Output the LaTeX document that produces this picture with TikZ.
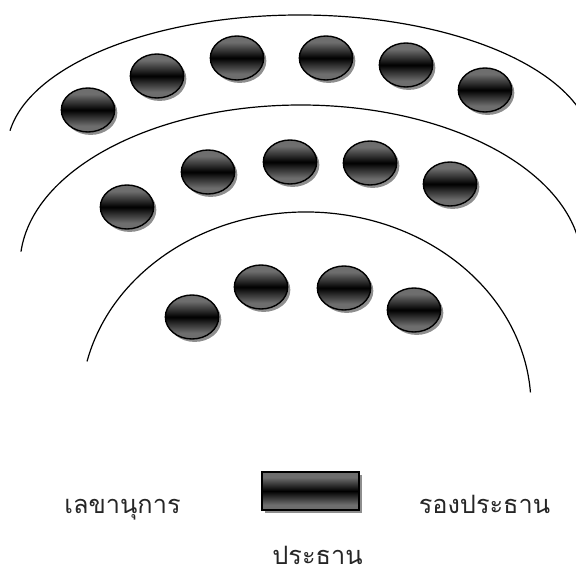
\documentclass[tikz,border=0pt]{standalone}
\usepackage{fontspec}
\usetikzlibrary{shapes.geometric,shadows}
\newfontfamily\thaifont[Script=Thai]{Loma}
\definecolor{seatgray}{HTML}{6E6E6E}
\definecolor{shadowgray}{HTML}{8E8E8E}
\pgfdeclareverticalshading{seatshade}{100bp}{color(0bp)=(seatgray);
  color(32bp)=(seatgray); color(50bp)=(black); color(68bp)=(seatgray);
  color(100bp)=(seatgray)}

\begin{document}
\begin{tikzpicture}[
  x=0.75pt,y=-0.75pt,
  row/.style={line width=0.9pt,draw=black},
  glossy/.style={shading=seatshade,
    drop shadow={shadow xshift=2pt,shadow yshift=-2.2pt,fill=shadowgray,opacity=1}},
  seat/.style={ellipse,glossy,draw=black,line width=1.05pt,inner sep=0pt,
    minimum width=40pt,minimum height=33pt},
  chairbox/.style={rectangle,glossy,draw=black,line width=1.5pt,inner sep=0pt,
    minimum width=72.75pt,minimum height=28.5pt},
  label/.style={anchor=base,inner sep=0pt,text=black!85,
    font=\thaifont\fontsize{19}{23}\selectfont}
]
\useasboundingbox (0,0) rectangle (576,575);

% rows of the hall, cut off by the frame on the right
\begin{scope}
\clip (0,0) rectangle (576,575);
\draw[row] (300,150) ++(188.2:293 and 135)
  arc[start angle=188.2,end angle=342,x radius=293,y radius=135];
\draw[row] (301,265) ++(184.8:281 and 160)
  arc[start angle=184.8,end angle=350,x radius=281,y radius=160];
\draw[row] (306,406) ++(193.3:225 and 194)
  arc[start angle=193.3,end angle=356,x radius=225,y radius=194];
\end{scope}

% back row
\node[seat] (back1) at (88,110) {};
\node[seat] (back2) at (157,76) {};
\node[seat] (back3) at (237,58) {};
\node[seat] (back4) at (326,58) {};
\node[seat] (back5) at (406,65) {};
\node[seat] (back6) at (485,90) {};
% middle row
\node[seat] (mid1) at (127,207) {};
\node[seat] (mid2) at (208,172) {};
\node[seat] (mid3) at (290,162) {};
\node[seat] (mid4) at (370,163) {};
\node[seat] (mid5) at (450,184) {};
% front row
\node[seat] (front1) at (192,317) {};
\node[seat] (front2) at (261,287) {};
\node[seat] (front3) at (344,288) {};
\node[seat] (front4) at (414,310) {};

% head table and the people round it
\node[chairbox] (head) at (310.5,491) {};
\node[label] (secretary) at (122.5,513) {เลขานุการ};
\node[label] (vice) at (484.5,513) {รองประธาน};
\node[label] (chair) at (317.5,564) {ประธาน};
\end{tikzpicture}
\end{document}
